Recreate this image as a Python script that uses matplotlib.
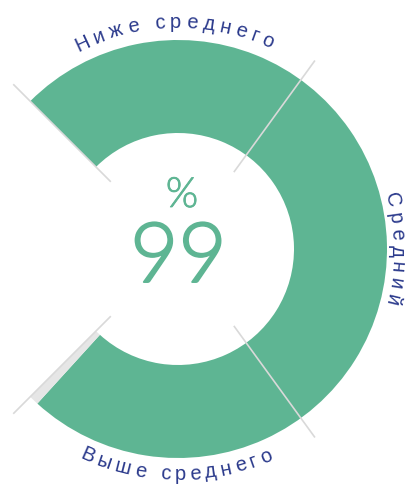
import numpy as np
import matplotlib
matplotlib.use('Agg')
import matplotlib.pyplot as plt
import matplotlib.patheffects as pe
from matplotlib.patches import Wedge
from matplotlib.font_manager import FontProperties, fontManager, weight_dict

# данные
labels = ['Ниже среднего', 'Средний', 'Выше среднего']
shares = [30, 40, 30]
value = 99

GREEN = '#5eb593'
REST = '#e6e6e6'
LINE = '#d9d9d9'
NAVY = '#2b3a8c'

W, H = 410, 484
cx, cy = 178, H - 249
R, r_in = 209, 116
start, sweep = 135, 270


def light_font(target=300):
    # ищем светлое начертание для большой цифры
    best = None
    for fam in ['Lato', 'Roboto', 'Inter', 'Open Sans', 'Noto Sans']:
        for f in fontManager.ttflist:
            if f.name != fam or f.style != 'normal':
                continue
            w = f.weight if isinstance(f.weight, int) else weight_dict.get(f.weight, 400)
            score = abs(w - target)
            if best is None or score < best[0]:
                best = (score, f.fname)
        if best is not None and best[0] <= 50:
            break
    if best is None:
        return FontProperties(family='DejaVu Sans', weight='light')
    return FontProperties(fname=best[1])


fig = plt.figure(figsize=(W / 100, H / 100), dpi=100)
ax = fig.add_axes([0, 0, 1, 1])
ax.set_xlim(0, W)
ax.set_ylim(0, H)
ax.set_aspect('equal')
ax.axis('off')

filled = sweep * value / 100
ax.add_patch(Wedge((cx, cy), R, start - filled, start, width=R - r_in, color=GREEN, lw=0))
ax.add_patch(Wedge((cx, cy), R, start - sweep, start - filled, width=R - r_in, color=REST, lw=0))

bounds = start - sweep * np.cumsum([0] + shares) / sum(shares)
for a in bounds:
    t = np.radians(a)
    rr = np.array([95, 233])
    ax.plot(cx + rr * np.cos(t), cy + rr * np.sin(t), color=LINE, lw=1.2, zorder=3,
            solid_capstyle='butt')

renderer = fig.canvas.get_renderer()
fp = FontProperties(family=['Liberation Sans', 'DejaVu Sans'], size=14.5)


def arc_text(s, angle0, radius, outward, spacing=4.5):
    def w(t):
        return renderer.get_text_width_height_descent(t, fp, ismath=False)[0]
    n = len(s)
    starts = [0.0] + [w(s[:i] + 'H') - w('H') for i in range(1, n)]
    ends = starts[1:] + [w(s)]
    mids = [(a + b) / 2 + i * spacing for i, (a, b) in enumerate(zip(starts, ends))]
    total = ends[-1] + spacing * (n - 1)
    r_mid = radius + 5 if outward else radius - 5
    for ch, m in zip(s, mids):
        d = np.degrees((m - total / 2) / r_mid)
        a = angle0 - d if outward else angle0 + d
        rot = a - 90 if outward else a + 90
        t = np.radians(a)
        ax.text(cx + radius * np.cos(t), cy + radius * np.sin(t), ch,
                fontproperties=fp, color=NAVY, rotation=rot,
                rotation_mode='anchor', ha='center', va='baseline')


arc_text(labels[0], 91, 221, True, spacing=5.2)
arc_text(labels[1], 0, 214, True, spacing=5.2)
arc_text(labels[2], -90.5, 231, False, spacing=4.2)

big = light_font(300)
ax.text(182, H - 207, '%', fontproperties=big, fontsize=30, color=GREEN,
        ha='center', va='baseline',
        path_effects=[pe.withStroke(linewidth=0.6, foreground=GREEN)])
ax.text(178.5, H - 282, str(value), fontproperties=big, fontsize=60, color=GREEN,
        ha='center', va='baseline',
        path_effects=[pe.withStroke(linewidth=1.4, foreground=GREEN)])

fig.savefig('out.png', dpi=100)
